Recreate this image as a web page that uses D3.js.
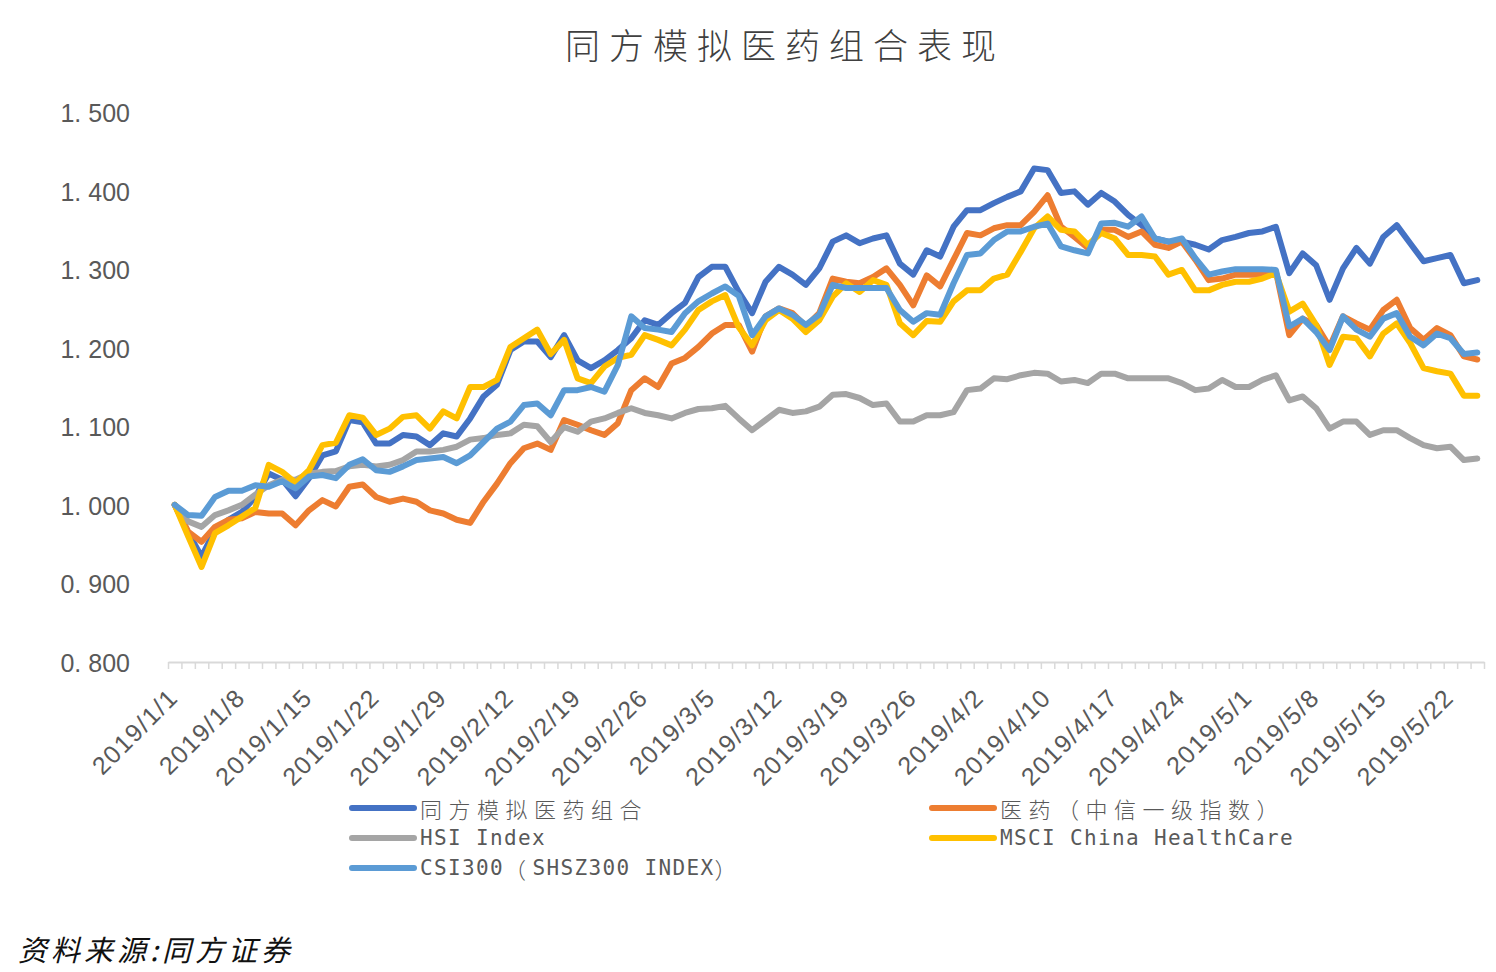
<!DOCTYPE html>
<html><head><meta charset="utf-8">
<script src="https://cdn.jsdelivr.net/npm/d3@7"></script>
<style>html,body{margin:0;padding:0;background:#fff;} svg{display:block;}</style>
</head><body>
<svg id="chart" width="1496" height="972"></svg>
<script>
// ---- data ----
const dates = [
"2019/1/1","2019/1/2","2019/1/3","2019/1/4","2019/1/7","2019/1/8","2019/1/9","2019/1/10","2019/1/11","2019/1/14",
"2019/1/15","2019/1/16","2019/1/17","2019/1/18","2019/1/21","2019/1/22","2019/1/23","2019/1/24","2019/1/25","2019/1/28",
"2019/1/29","2019/1/30","2019/1/31","2019/2/1","2019/2/11","2019/2/12","2019/2/13","2019/2/14","2019/2/15","2019/2/18",
"2019/2/19","2019/2/20","2019/2/21","2019/2/22","2019/2/25","2019/2/26","2019/2/27","2019/2/28","2019/3/1","2019/3/4",
"2019/3/5","2019/3/6","2019/3/7","2019/3/8","2019/3/11","2019/3/12","2019/3/13","2019/3/14","2019/3/15","2019/3/18",
"2019/3/19","2019/3/20","2019/3/21","2019/3/22","2019/3/25","2019/3/26","2019/3/27","2019/3/28","2019/3/29","2019/4/1",
"2019/4/2","2019/4/3","2019/4/4","2019/4/8","2019/4/9","2019/4/10","2019/4/11","2019/4/12","2019/4/15","2019/4/16",
"2019/4/17","2019/4/18","2019/4/19","2019/4/22","2019/4/23","2019/4/24","2019/4/25","2019/4/26","2019/4/29","2019/4/30",
"2019/5/1","2019/5/2","2019/5/3","2019/5/6","2019/5/7","2019/5/8","2019/5/9","2019/5/10","2019/5/13","2019/5/14",
"2019/5/15","2019/5/16","2019/5/17","2019/5/20","2019/5/21","2019/5/22","2019/5/23","2019/5/24"];

const xTickLabels = ["2019/1/1","2019/1/8","2019/1/15","2019/1/22","2019/1/29","2019/2/12","2019/2/19","2019/2/26",
"2019/3/5","2019/3/12","2019/3/19","2019/3/26","2019/4/2","2019/4/10","2019/4/17","2019/4/24","2019/5/1","2019/5/8",
"2019/5/15","2019/5/22"];

const yTicks = [0.8, 0.9, 1.0, 1.1, 1.2, 1.3, 1.4, 1.5];

const seriesNames = ["同方模拟医药组合", "医药（中信一级指数）", "HSI Index", "MSCI China HealthCare", "CSI300（SHSZ300 INDEX）"];
const seriesColors = ["#4472C4", "#ED7D31", "#A5A5A5", "#FFC000", "#5B9BD5"];

const portfolio = [
1.000,0.965,0.934,0.968,0.981,0.991,1.010,1.040,1.032,1.011,
1.034,1.063,1.068,1.108,1.105,1.078,1.078,1.089,1.087,1.076,
1.091,1.087,1.110,1.138,1.153,1.197,1.208,1.208,1.188,1.216,
1.184,1.174,1.184,1.197,1.212,1.235,1.229,1.244,1.257,1.290,
1.303,1.303,1.271,1.244,1.284,1.303,1.293,1.280,1.301,1.335,
1.343,1.333,1.339,1.343,1.307,1.293,1.324,1.316,1.354,1.375,
1.375,1.384,1.392,1.399,1.428,1.426,1.397,1.399,1.382,1.397,
1.386,1.369,1.356,1.339,1.335,1.335,1.331,1.325,1.337,1.341,
1.346,1.348,1.354,1.295,1.320,1.305,1.261,1.301,1.327,1.307,
1.341,1.356,1.333,1.310,1.314,1.318,1.282,1.286];

const pharma = [
1.000,0.966,0.953,0.972,0.981,0.983,0.991,0.989,0.989,0.974,
0.993,1.006,0.998,1.023,1.026,1.010,1.004,1.008,1.004,0.993,
0.989,0.981,0.977,1.004,1.027,1.053,1.072,1.078,1.070,1.108,
1.102,1.095,1.089,1.104,1.146,1.161,1.150,1.180,1.187,1.201,
1.218,1.229,1.229,1.195,1.240,1.250,1.244,1.227,1.244,1.288,
1.284,1.282,1.290,1.301,1.280,1.254,1.292,1.278,1.312,1.346,
1.343,1.352,1.356,1.356,1.373,1.394,1.354,1.341,1.327,1.350,
1.350,1.341,1.348,1.331,1.327,1.335,1.312,1.286,1.288,1.293,
1.293,1.293,1.297,1.216,1.237,1.229,1.201,1.240,1.231,1.223,
1.248,1.261,1.225,1.210,1.225,1.216,1.189,1.185];

const hsi = [
1.000,0.979,0.972,0.987,0.993,1.000,1.013,1.025,1.032,1.032,
1.040,1.042,1.043,1.049,1.051,1.049,1.051,1.057,1.068,1.068,
1.070,1.074,1.083,1.085,1.089,1.091,1.102,1.100,1.080,1.099,
1.093,1.106,1.110,1.117,1.123,1.117,1.114,1.110,1.117,1.122,
1.123,1.126,1.110,1.095,1.108,1.121,1.117,1.119,1.125,1.140,
1.141,1.136,1.127,1.129,1.106,1.106,1.114,1.114,1.118,1.146,
1.148,1.161,1.160,1.165,1.168,1.167,1.157,1.159,1.155,1.167,
1.167,1.161,1.161,1.161,1.161,1.155,1.146,1.148,1.159,1.150,
1.150,1.159,1.165,1.133,1.138,1.123,1.097,1.106,1.106,1.089,
1.095,1.095,1.085,1.076,1.072,1.074,1.057,1.059];

const msci = [
1.000,0.960,0.921,0.964,0.974,0.985,0.996,1.051,1.042,1.028,
1.044,1.076,1.079,1.114,1.111,1.089,1.097,1.112,1.114,1.097,
1.119,1.110,1.150,1.150,1.159,1.201,1.212,1.223,1.192,1.210,
1.161,1.155,1.176,1.187,1.191,1.216,1.210,1.203,1.223,1.248,
1.259,1.267,1.226,1.203,1.235,1.248,1.237,1.220,1.235,1.265,
1.282,1.271,1.286,1.280,1.231,1.216,1.234,1.233,1.259,1.273,
1.273,1.288,1.293,1.322,1.352,1.367,1.350,1.348,1.331,1.346,
1.339,1.318,1.318,1.316,1.293,1.299,1.273,1.273,1.280,1.284,
1.284,1.288,1.295,1.246,1.256,1.229,1.178,1.214,1.212,1.189,
1.218,1.231,1.206,1.174,1.170,1.167,1.139,1.139];

const csi300 = [
1.000,0.987,0.986,1.010,1.018,1.018,1.025,1.023,1.030,1.021,
1.036,1.038,1.034,1.051,1.058,1.044,1.042,1.049,1.057,1.059,
1.061,1.053,1.063,1.080,1.097,1.106,1.127,1.129,1.114,1.146,
1.146,1.150,1.144,1.178,1.240,1.225,1.223,1.220,1.244,1.259,
1.269,1.278,1.266,1.216,1.240,1.250,1.242,1.229,1.242,1.280,
1.276,1.276,1.276,1.276,1.248,1.233,1.244,1.242,1.282,1.318,
1.320,1.337,1.348,1.348,1.354,1.358,1.329,1.324,1.320,1.358,
1.359,1.354,1.367,1.339,1.335,1.339,1.314,1.293,1.297,1.300,
1.300,1.300,1.299,1.227,1.237,1.220,1.197,1.240,1.223,1.214,
1.237,1.244,1.214,1.203,1.218,1.212,1.192,1.194];

const seriesValues = [portfolio, pharma, hsi, msci, csi300];

// ---- layout ----
const svg = d3.select("#chart");
svg.append("rect").attr("width", 1496).attr("height", 972).attr("fill", "#fff");

const plotLeft = 168, plotRight = 1484, plotTop = 112, plotBottom = 662;
const x = d3.scaleBand().domain(dates).range([plotLeft, plotRight]).padding(0);
const xc = d => x(d) + x.bandwidth() / 2;
const y = d3.scaleLinear().domain([0.8, 1.5]).range([plotBottom, plotTop]);

// title
svg.append("text")
  .attr("x", 565).attr("y", 43)
  .attr("dominant-baseline", "central")
  .attr("font-family", "'Noto Sans CJK SC', sans-serif")
  .attr("font-size", 35).attr("letter-spacing", 9).attr("font-weight", 300)
  .attr("fill", "#404040")
  .text("同方模拟医药组合表现");

// y axis labels (no axis line, no gridlines)
const yLab = svg.append("g");
yTicks.forEach(v => {
  const s = d3.format(".3f")(v).split(".");
  const t = yLab.append("text")
    .attr("x", 130).attr("y", y(v) + 1)
    .attr("text-anchor", "end").attr("dominant-baseline", "central")
    .attr("font-family", "'Liberation Sans', Arial, sans-serif")
    .attr("font-size", 25).attr("fill", "#595959");
  t.append("tspan").text(s[0] + ".");
  t.append("tspan").attr("dx", 7).text(s[1]);
});

// x axis: line + minor tick at every category boundary
const tickScale = d3.scaleLinear().domain([0, dates.length]).range([plotLeft, plotRight]);
const xAxis = d3.axisBottom(tickScale)
  .tickValues(d3.range(0, dates.length + 1))
  .tickSize(7).tickSizeOuter(0).tickFormat("");
const gx = svg.append("g").attr("transform", `translate(0,${plotBottom})`).call(xAxis);
gx.select(".domain").attr("stroke", "#d9d9d9").attr("stroke-width", 2);
gx.selectAll(".tick line").attr("stroke", "#d9d9d9").attr("stroke-width", 1.5);

// rotated x labels
const xl = svg.append("g");
xTickLabels.forEach(d => {
  xl.append("text")
    .attr("transform", `translate(${xc(d) + 5},${plotBottom + 37}) rotate(-45)`)
    .attr("text-anchor", "end")
    .attr("font-family", "'Liberation Sans', Arial, sans-serif")
    .attr("font-size", 25).attr("letter-spacing", 1.5)
    .attr("fill", "#595959")
    .text(d);
});

// lines
const line = d3.line().x((v, i) => xc(dates[i])).y(v => y(v));
const gl = svg.append("g");
seriesValues.forEach((vals, k) => {
  gl.append("path")
    .attr("d", line(vals))
    .attr("fill", "none")
    .attr("stroke", seriesColors[k])
    .attr("stroke-width", 6)
    .attr("stroke-linejoin", "round")
    .attr("stroke-linecap", "round");
});

// legend
function mixedText(g, str, tx, ty) {
  const t = g.append("text").attr("x", tx).attr("y", ty)
    .attr("dominant-baseline", "central").attr("fill", "#595959");
  const runs = [];
  for (const ch of str) {
    const latin = /[\x00-\x7F]/.test(ch);
    if (runs.length && runs[runs.length - 1].latin === latin) runs[runs.length - 1].s += ch;
    else runs.push({latin, s: ch});
  }
  runs.forEach(r => {
    const ts = t.append("tspan").text(r.s);
    if (r.latin) ts.attr("font-family", "'DejaVu Sans Mono', monospace").attr("font-size", 21).attr("letter-spacing", 1.36);
    else ts.attr("font-family", "'Noto Sans CJK SC', sans-serif").attr("font-size", 22).attr("letter-spacing", 6.5).attr("font-weight", 300);
  });
  t.style("white-space", "pre");
}
const legendPos = [[352, 808], [932, 808], [352, 838], [932, 838], [352, 868]];
const lg = svg.append("g");
seriesNames.forEach((name, k) => {
  const [lx, ly] = legendPos[k];
  lg.append("line").attr("x1", lx).attr("x2", lx + 62).attr("y1", ly).attr("y2", ly)
    .attr("stroke", seriesColors[k]).attr("stroke-width", 6).attr("stroke-linecap", "round");
  mixedText(lg, name, lx + 68, ly);
});

// source note
svg.append("text")
  .attr("x", 18).attr("y", 948)
  .attr("dominant-baseline", "central")
  .attr("font-family", "'Noto Sans CJK SC', sans-serif")
  .attr("font-size", 29).attr("font-style", "italic").attr("font-weight", 400)
  .attr("letter-spacing", 4)
  .attr("fill", "#111")
  .text("资料来源:同方证券");
</script>
</body></html>
